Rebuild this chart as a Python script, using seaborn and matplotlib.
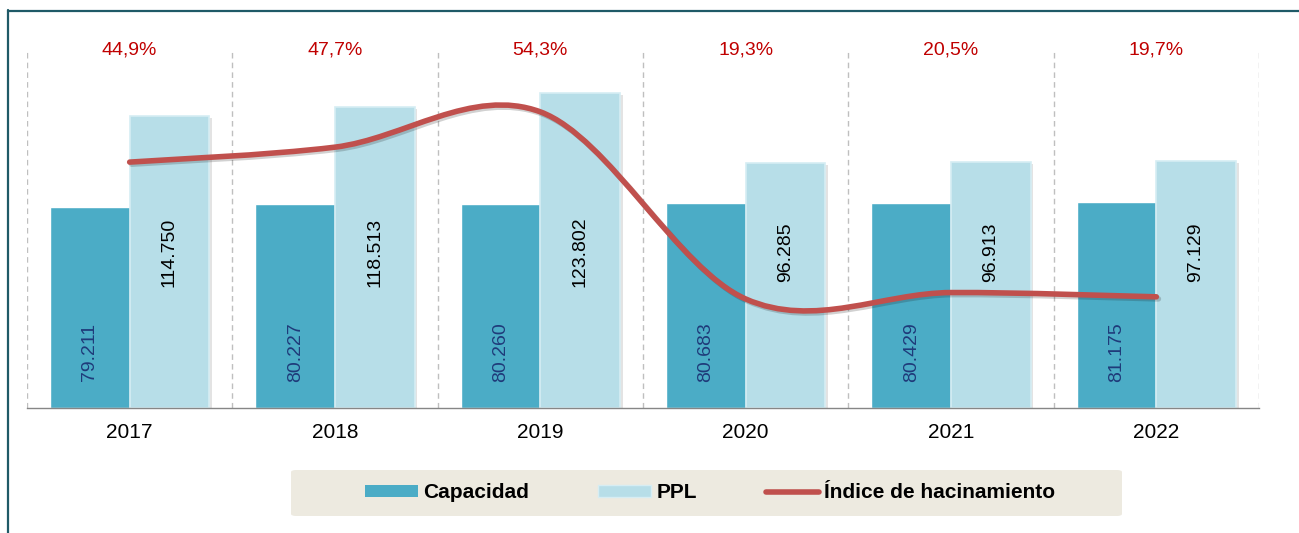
import numpy as np
import pandas as pd
import matplotlib.pyplot as plt
import matplotlib.patheffects as pe
from matplotlib.path import Path
from matplotlib.patches import PathPatch, Patch, FancyBboxPatch
from matplotlib.lines import Line2D
import seaborn as sns

# ---------------------------------------------------------------
years = ["2017", "2018", "2019", "2020", "2021", "2022"]
capacidad = [79211, 80227, 80260, 80683, 80429, 81175]
ppl = [114750, 118513, 123802, 96285, 96913, 97129]
hacinamiento = [44.9, 47.7, 54.3, 19.3, 20.5, 19.7]

C_CAP = "#4BACC6"
C_PPL = "#B7DEE8"
C_LINE = "#C0504D"
C_PCT = "#C00000"
C_NAVY = "#1F3B7A"
# ---------------------------------------------------------------

sns.set_theme(style="white")
plt.rcParams["font.family"] = ["Liberation Sans", "DejaVu Sans"]
plt.rcParams["text.color"] = "black"
plt.rcParams["xtick.color"] = "black"
plt.rcParams["xtick.labelcolor"] = "black"

df = pd.DataFrame({
    "year": years * 2,
    "value": capacidad + ppl,
    "serie": ["Capacidad"] * len(years) + ["PPL"] * len(years),
})

W, H = 1299, 533
fig = plt.figure(figsize=(W / 100, H / 100), dpi=100)
ax = fig.add_axes([27 / W, 125 / H, 1232 / W, 356 / H])

sns.barplot(data=df, x="year", y="value", hue="serie", ax=ax,
            palette={"Capacidad": C_CAP, "PPL": C_PPL}, saturation=1,
            width=0.775, gap=0, legend=False, errorbar=None)

shadow = [pe.SimplePatchShadow(offset=(2, -1.5), shadow_rgbFace="#808080", alpha=0.22), pe.Normal()]
for bar in ax.containers[0]:
    bar.set_path_effects(shadow)
for bar in ax.containers[1]:
    bar.set_edgecolor("#D6EDF3")
    bar.set_linewidth(1.2)
    bar.set_path_effects(shadow)

# value labels
fmt = lambda v: f"{v:,}".replace(",", ".")
for bar, v in zip(ax.containers[0], capacidad):
    ax.text(bar.get_x() + bar.get_width() / 2, 22000, fmt(v), rotation=90,
            ha="center", va="center", fontsize=14, color=C_NAVY)
for bar, v in zip(ax.containers[1], ppl):
    ax.text(bar.get_x() + bar.get_width() / 2, 61300, fmt(v), rotation=90,
            ha="center", va="center", fontsize=14, color="black")

# axes styling
ax.set_xlim(-0.5, len(years) - 0.5)
ax.set_ylim(0, 140000)
ax.set_xlabel("")
ax.set_ylabel("")
ax.set_yticks([])
ax.set_xticks(np.arange(-0.5, len(years), 1))
ax.set_xticklabels([])
ax.set_xticks(range(len(years)), minor=True)
ax.set_xticklabels(years, minor=True, fontsize=15, color="black")
ax.tick_params(axis="x", which="major", length=5, width=1, color="#868686", direction="out")
ax.tick_params(axis="x", which="minor", length=0, pad=11)
ax.xaxis.grid(True, which="major", linestyle=(0, (4, 3)), color="#BFBFBF", linewidth=1)
ax.set_axisbelow(True)
for s in ["left", "right", "top"]:
    ax.spines[s].set_visible(False)
ax.spines["bottom"].set_color("#868686")
ax.spines["bottom"].set_linewidth(1)

# percentage labels above each year
for i, p in enumerate(hacinamiento):
    ax.text(i, 1.006, f"{p:.1f}%".replace(".", ","), transform=ax.get_xaxis_transform(),
            ha="center", va="center", fontsize=14, color=C_PCT)

# smoothed index line on a secondary axis
ax2 = ax.twinx()
ax2.set_ylim(-1.1, 65.5)
ax2.set_yticks([])
for s in ax2.spines.values():
    s.set_visible(False)
pts = np.column_stack([np.arange(len(years)), hacinamiento]).astype(float)
ext = np.vstack([pts[0], pts, pts[-1]])
verts, codes = [pts[0]], [Path.MOVETO]
for k in range(len(pts) - 1):
    p0, p1, p2, p3 = ext[k], ext[k + 1], ext[k + 2], ext[k + 3]
    verts += [p1 + (p2 - p0) / 6, p2 - (p3 - p1) / 6, p2]
    codes += [Path.CURVE4] * 3
curve = PathPatch(Path(verts, codes), facecolor="none", edgecolor=C_LINE, lw=4,
                  capstyle="round", joinstyle="round", transform=ax2.transData)
curve.set_path_effects([pe.SimpleLineShadow(offset=(1.5, -1.5), shadow_color="k", alpha=0.2), pe.Normal()])
ax2.add_patch(curve)

# legend box
fig.add_artist(FancyBboxPatch((291 / W, 17 / H), 831 / W, 46 / H,
                              boxstyle="round,pad=0,rounding_size=0.004",
                              transform=fig.transFigure, facecolor="#EDEAE0", edgecolor="none"))
handles = [
    Patch(facecolor=C_CAP, edgecolor="none"),
    Patch(facecolor=C_PPL, edgecolor="#D6EDF3"),
    Line2D([], [], color=C_LINE, lw=4, solid_capstyle="round"),
]
labels = ["Capacidad", "PPL", "Índice de hacinamiento"]
leg = fig.legend(handles, labels, loc="center", bbox_to_anchor=(710 / W, 40 / H), ncol=3,
                 frameon=False, prop={"weight": "bold", "size": 15}, handlelength=2.55,
                 handleheight=0.55, handletextpad=0.25, columnspacing=3.3)
for t in leg.get_texts():
    t.set_color("black")

# outer frame (top and left edges)
fig.add_artist(Line2D([8 / W, 8 / W], [0, 1 - 10 / H], transform=fig.transFigure, color="#1F5A67", lw=1.6))
fig.add_artist(Line2D([8 / W, 1], [1 - 11 / H, 1 - 11 / H], transform=fig.transFigure, color="#1F5A67", lw=1.6))

plt.savefig("out.png", dpi=100)
